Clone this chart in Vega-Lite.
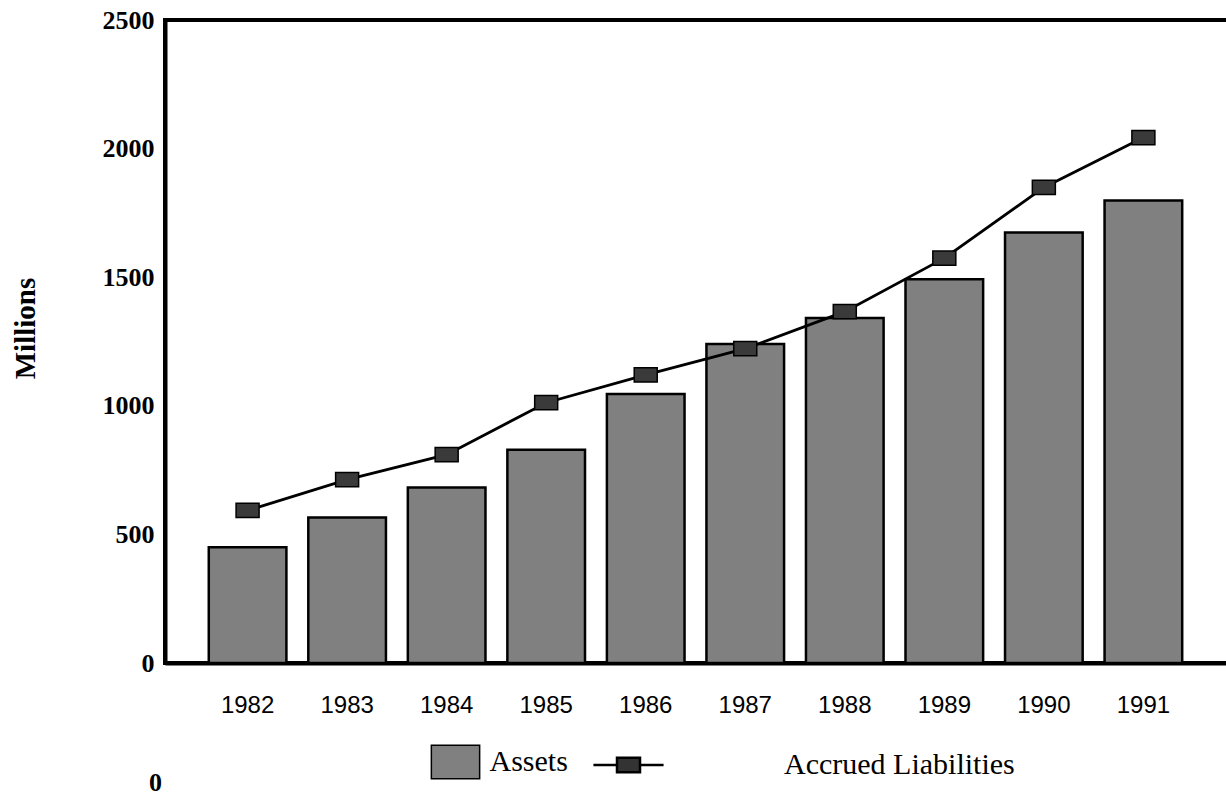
{
  "$schema": "https://vega.github.io/schema/vega-lite/v6.json",
  "width": 1065,
  "height": 643,
  "autosize": {"type": "none"},
  "padding": {"left": 165, "top": 20, "right": -4, "bottom": 134},
  "background": "white",
  "config": {"view": {"stroke": "black", "strokeWidth": 4}},
  "title": {"text": "0", "orient": "bottom", "anchor": "start", "frame": "group", "font": "Liberation Serif", "fontSize": 26, "fontWeight": "bold", "color": "black", "dx": -16, "offset": -12},
  "data": {"values": [
    {"year": "1982", "Assets": 450, "Accrued Liabilities": 593},
    {"year": "1983", "Assets": 566, "Accrued Liabilities": 713},
    {"year": "1984", "Assets": 682, "Accrued Liabilities": 810},
    {"year": "1985", "Assets": 829, "Accrued Liabilities": 1012},
    {"year": "1986", "Assets": 1046, "Accrued Liabilities": 1120},
    {"year": "1987", "Assets": 1240, "Accrued Liabilities": 1222},
    {"year": "1988", "Assets": 1341, "Accrued Liabilities": 1366},
    {"year": "1989", "Assets": 1492, "Accrued Liabilities": 1574},
    {"year": "1990", "Assets": 1674, "Accrued Liabilities": 1849},
    {"year": "1991", "Assets": 1798, "Accrued Liabilities": 2043}
  ]},
  "layer": [
    {
      "mark": {"type": "bar", "stroke": "black", "strokeWidth": 2.5},
      "encoding": {
        "x": {"field": "year", "type": "ordinal", "scale": {"paddingInner": 0.22, "paddingOuter": 0.46, "align": 0.478},
          "axis": {"orient": "bottom", "title": null, "labelAngle": 0, "ticks": false, "domainColor": "black", "domainWidth": 4, "labelFont": "Liberation Sans", "labelFontSize": 24, "labelColor": "black", "labelPadding": 30}},
        "y": {"field": "Assets", "type": "quantitative", "scale": {"domain": [0, 2500], "nice": false},
          "axis": {"orient": "left", "title": "Millions", "format": "d", "values": [0, 500, 1000, 1500, 2000, 2500], "grid": false, "domain": true, "domainColor": "black", "domainWidth": 4, "ticks": false, "labelPadding": 11, "labelFont": "Liberation Serif", "labelFontWeight": "bold", "labelFontSize": 26, "labelColor": "black", "labelBaseline": "middle", "titleFont": "Liberation Serif", "titleFontWeight": "bold", "titleFontSize": 29, "titleColor": "black", "titlePadding": 62, "titleY": 308}},
        "fill": {"datum": "Assets", "type": "nominal", "scale": {"domain": ["Assets"], "range": ["#808080"]},
          "legend": {"orient": "none", "legendX": 275.5, "legendY": 727, "title": null, "padding": 0, "symbolType": "M-2.1,-1.45H2.1V1.45H-2.1Z", "symbolSize": 529, "labelFont": "Liberation Serif", "labelFontSize": 30, "labelColor": "black", "labelOffset": 19, "labelLimit": 0,
            "encode": {"symbols": {"update": {"stroke": {"value": "black"}, "strokeWidth": {"value": 2.5}, "fill": {"value": "#808080"}, "opacity": {"value": 1}}}}}}
      }
    },
    {
      "mark": {"type": "line", "strokeWidth": 2.8},
      "encoding": {
        "x": {"field": "year", "type": "ordinal"},
        "y": {"field": "Accrued Liabilities", "type": "quantitative"},
        "stroke": {"datum": "Accrued Liabilities", "type": "nominal", "scale": {"domain": ["Accrued Liabilities"], "range": ["black"]},
          "legend": {"orient": "none", "legendX": 448.5, "legendY": 730, "title": null, "padding": 0, "symbolType": "M-3.05,0H-1M1,0H3.05M-1,-0.62H1V0.62H-1Z", "symbolSize": 529, "labelFont": "Liberation Serif", "labelFontSize": 30, "labelColor": "black", "labelOffset": 140.5, "labelLimit": 0,
            "encode": {"symbols": {"update": {"stroke": {"value": "black"}, "strokeWidth": {"value": 2.5}, "fill": {"value": "#333333"}, "opacity": {"value": 1}}}}}}
      }
    },
    {
      "mark": {"type": "point", "shape": "M-1,-0.62H1V0.62H-1Z", "size": 529, "filled": true, "fill": "#3a3a3a", "stroke": "black", "strokeWidth": 1.5, "opacity": 1},
      "encoding": {
        "x": {"field": "year", "type": "ordinal"},
        "y": {"field": "Accrued Liabilities", "type": "quantitative"}
      }
    }
  ]
}
